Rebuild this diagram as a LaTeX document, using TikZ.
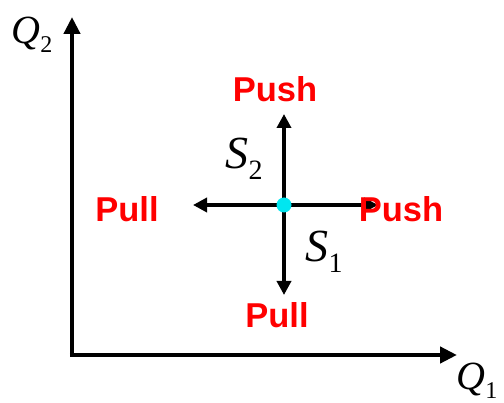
\documentclass[tikz,border=0pt]{standalone}
\usepackage{fontspec}
\setmainfont{Liberation Serif}
\newfontfamily\labfont{Liberation Sans}
\usetikzlibrary{arrows.meta}
\definecolor{pushred}{RGB}{255,0,0}
\definecolor{dotcyan}{RGB}{0,230,240}
\tikzset{
  axisline/.style={line width=4.5pt,-{Triangle[length=17pt,width=16pt]}},
  crossline/.style={line width=4.5pt,-{Triangle[length=14pt,width=14pt]}},
  pplabel/.style={text=pushred,font=\labfont\bfseries\fontsize{34.5}{34.5}\selectfont,inner sep=0pt},
  varlabel/.style={font=\itshape\fontsize{46}{46}\selectfont,inner sep=0pt},
  qlabel/.style={font=\itshape\fontsize{40}{40}\selectfont,inner sep=0pt}
}
\newcommand{\subsc}[1]{\raisebox{-0.25em}{\upshape\fontsize{28}{28}\selectfont #1}}
\newcommand{\subsq}[1]{\raisebox{-0.22em}{\upshape\fontsize{24}{24}\selectfont #1}}
\begin{document}
\begin{tikzpicture}[x=1pt,y=-1pt]
\useasboundingbox (0,0) rectangle (504,403);
\coordinate (o) at (72,355);
\coordinate (ytip) at (72,17);
\coordinate (xtip) at (457,355);
\draw[axisline] ([yshift=2.25pt]o) -- (ytip);
\draw[axisline] ([xshift=-2.25pt]o) -- (xtip);
\node[qlabel] (q2) at (32,35) {Q\subsq{2}};
\node[qlabel] (q1) at (477,381) {Q\subsq{1}};
\coordinate (c) at (284,205);
\coordinate (up) at (284,114);
\coordinate (dn) at (284,295);
\coordinate (lf) at (193,205);
\coordinate (rt) at (378,205);
\draw[crossline] (c) -- (up);
\draw[crossline] (c) -- (dn);
\draw[crossline] (c) -- (lf);
\draw[crossline] (c) -- (rt);
\node[circle,fill=dotcyan,minimum size=15pt,inner sep=0pt] (dot) at (c) {};
\node[pplabel] (pushtop) at (275,89) {Push};
\node[pplabel] (pullleft) at (127,209) {Pull};
\node[pplabel] (pushright) at (401,209) {Push};
\node[pplabel] (pullbot) at (277,315) {Pull};
\node[varlabel] (s2) at (244,159) {S\subsc{2}};
\node[varlabel] (s1) at (324,252) {S\subsc{1}};
\end{tikzpicture}
\end{document}
